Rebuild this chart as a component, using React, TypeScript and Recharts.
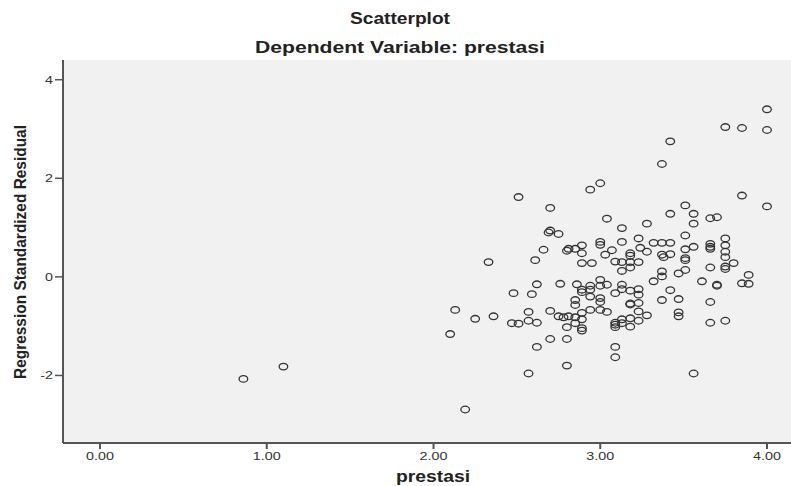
import { ScatterChart, Scatter, XAxis, YAxis, CartesianGrid } from 'recharts'

// prestasi (x) and regression standardized residual (y)
const prestasi = [
  4.0, 3.75, 3.85, 4.0, 3.42, 3.37, 3.0, 2.94, 2.51, 3.85,
  4.0, 3.51, 2.7, 3.42, 3.56, 3.04, 3.66, 3.7, 3.13, 3.28,
  3.56, 2.69, 2.7, 2.75, 3.0, 3.0, 3.13, 3.51, 3.75, 3.75,
  3.75, 3.75, 3.66, 3.66, 3.66, 3.23, 3.32, 3.37, 3.42, 3.51,
  3.56, 3.24, 3.28, 3.07, 3.03, 3.18, 3.18, 3.37, 3.38, 3.42,
  3.51, 3.51, 3.09, 3.13, 3.18, 3.23, 3.8, 3.75, 3.75, 3.66,
  3.51, 3.47, 3.37, 3.37, 3.13, 3.18, 3.89, 2.66, 2.8, 2.81,
  2.85, 2.89, 2.89, 2.33, 2.61, 2.89, 2.95, 3.0, 3.32, 3.61,
  3.7, 3.7, 3.85, 3.89, 3.13, 3.13, 3.18, 3.23, 3.23, 3.42,
  3.37, 3.47, 3.66, 3.0, 3.0, 3.18, 3.18, 3.23, 3.23, 3.28,
  3.47, 3.47, 3.0, 3.04, 3.13, 3.18, 3.23, 3.09, 3.09, 3.09,
  3.13, 3.18, 3.66, 3.75, 3.09, 3.09, 3.56, 2.13, 2.1, 2.25,
  2.36, 2.19, 2.48, 2.62, 2.76, 2.59, 2.57, 2.47, 2.51, 2.57,
  2.62, 2.7, 2.75, 2.78, 2.81, 2.85, 2.85, 2.85, 2.85, 2.89,
  2.89, 2.89, 2.89, 2.8, 2.94, 2.94, 2.7, 2.8, 2.62, 2.8,
  2.57, 1.1, 0.86, 2.86, 2.89, 2.89, 2.94, 2.94, 3.0, 3.04,
  3.09,
]

const residual = [
  3.4, 3.04, 3.02, 2.98, 2.75, 2.29, 1.9, 1.77, 1.62, 1.65,
  1.43, 1.45, 1.4, 1.28, 1.28, 1.18, 1.19, 1.21, 0.99, 1.08,
  1.08, 0.9, 0.94, 0.87, 0.71, 0.65, 0.71, 0.84, 0.78, 0.64,
  0.51, 0.4, 0.67, 0.61, 0.57, 0.78, 0.69, 0.69, 0.69, 0.56,
  0.61, 0.59, 0.51, 0.54, 0.45, 0.48, 0.43, 0.45, 0.4, 0.46,
  0.38, 0.34, 0.31, 0.3, 0.3, 0.3, 0.28, 0.21, 0.16, 0.19,
  0.14, 0.07, 0.11, 0.01, 0.12, 0.19, 0.04, 0.55, 0.53, 0.57,
  0.57, 0.64, 0.48, 0.3, 0.34, 0.28, 0.28, -0.06, -0.09, -0.09,
  -0.16, -0.18, -0.13, -0.14, -0.16, -0.25, -0.28, -0.25, -0.36, -0.27,
  -0.47, -0.45, -0.51, -0.43, -0.51, -0.54, -0.56, -0.53, -0.7, -0.78,
  -0.72, -0.8, -0.67, -0.71, -0.86, -0.84, -0.89, -0.93, -0.97, -1.02,
  -0.94, -1.01, -0.93, -0.89, -1.42, -1.63, -1.96, -0.67, -1.16, -0.85,
  -0.8, -2.69, -0.33, -0.15, -0.14, -0.35, -0.71, -0.94, -0.95, -0.89,
  -0.93, -0.69, -0.8, -0.82, -0.8, -0.47, -0.57, -0.82, -0.94, -0.73,
  -0.86, -1.04, -1.09, -1.02, -0.4, -0.67, -1.26, -1.26, -1.42, -1.8,
  -1.96, -1.82, -2.07, -0.15, -0.26, -0.31, -0.18, -0.26, -0.18, -0.16,
  -0.33,
]

const xTicks = [0, 1, 2, 3, 4]
const yTicks = [-2, 0, 2, 4]

const FONT = 'Arial, "Liberation Sans", sans-serif'
const AXIS = '#555'

const points = prestasi.map((x, i) => ({ x, y: residual[i] }))

function Ring(props: any) {
  const { cx, cy } = props
  if (cx == null || cy == null) return null
  return (
    <ellipse cx={cx} cy={cy} rx={4.3} ry={3.3} fill="none" stroke="#333" strokeWidth={1.3} />
  )
}

// SPSS text in the picture is stretched sideways a bit
function XTick(props: any) {
  const { x, y, payload } = props
  return (
    <text
      transform={`translate(${x},${y}) scale(1.3,1)`}
      textAnchor="middle"
      dy="0.71em"
      fontSize={11}
      fill="#333"
      fontFamily={FONT}
    >
      {Number(payload.value).toFixed(2)}
    </text>
  )
}

function YTick(props: any) {
  const { x, y, payload } = props
  return (
    <text
      transform={`translate(${x},${y}) scale(1.3,1)`}
      textAnchor="end"
      dy="0.35em"
      fontSize={11}
      fill="#333"
      fontFamily={FONT}
    >
      {payload.value}
    </text>
  )
}

export default function App() {
  return (
    <div
      style={{
        position: 'absolute',
        left: 0,
        top: 0,
        width: 791,
        height: 486,
        background: '#fff',
        overflow: 'hidden',
        fontFamily: FONT,
      }}
    >
      <ScatterChart width={791} height={486} margin={{ top: 60, right: 0, bottom: 0, left: 0 }}>
        <CartesianGrid fill="#f0f1f0" horizontal={false} vertical={false} />
        <XAxis
          type="number"
          dataKey="x"
          domain={[-0.222, 4.144]}
          allowDataOverflow
          ticks={xTicks}
          height={43}
          tickSize={6}
          tickMargin={3}
          axisLine={{ stroke: AXIS, strokeWidth: 2 }}
          tickLine={{ stroke: AXIS, strokeWidth: 2 }}
          tick={<XTick />}
        />
        <XAxis
          xAxisId="top"
          orientation="top"
          type="number"
          domain={[-0.222, 4.144]}
          allowDataOverflow
          height={0}
          tick={false}
          tickLine={false}
          axisLine={{ stroke: '#888', strokeWidth: 1.5 }}
        />
        <YAxis
          type="number"
          dataKey="y"
          domain={[-3.37, 4.4]}
          allowDataOverflow
          ticks={yTicks}
          width={63}
          tickSize={8}
          tickMargin={2}
          axisLine={{ stroke: AXIS, strokeWidth: 2 }}
          tickLine={{ stroke: AXIS, strokeWidth: 1.5 }}
          tick={<YTick />}
        />
        <Scatter data={points} shape={<Ring />} isAnimationActive={false} />
      </ScatterChart>
      <svg
        width={791}
        height={486}
        style={{ position: 'absolute', left: 0, top: 0, pointerEvents: 'none' }}
        fontFamily={FONT}
        fontWeight="bold"
        fill="#222"
      >
        <text x={400} y={24} textAnchor="middle" fontSize={16} textLength={100} lengthAdjust="spacingAndGlyphs">
          Scatterplot
        </text>
        <text x={400} y={53} textAnchor="middle" fontSize={16} textLength={290} lengthAdjust="spacingAndGlyphs">
          Dependent Variable: prestasi
        </text>
        <text x={433} y={482} textAnchor="middle" fontSize={16} textLength={74} lengthAdjust="spacingAndGlyphs">
          prestasi
        </text>
        <text
          transform="translate(26,252) rotate(-90)"
          textAnchor="middle"
          fontSize={17}
          textLength={254}
          lengthAdjust="spacingAndGlyphs"
        >
          Regression Standardized Residual
        </text>
      </svg>
    </div>
  )
}
